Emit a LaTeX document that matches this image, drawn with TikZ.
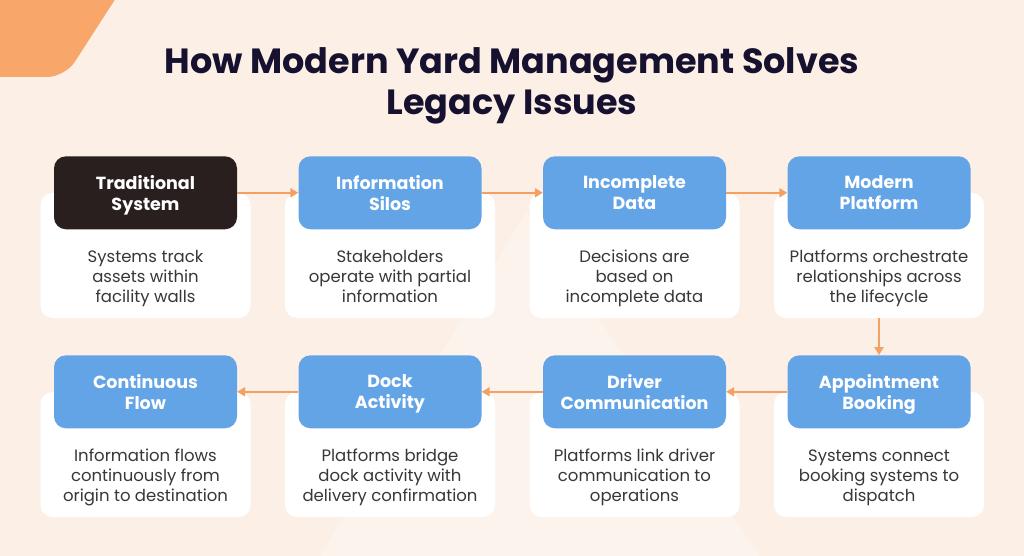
\documentclass[tikz,border=0pt]{standalone}
\usepackage{fontspec}
\setmainfont{Poppins}
\usetikzlibrary{positioning,arrows.meta}
\definecolor{bgpeach}{HTML}{FCEFE6}
\definecolor{cornerorange}{HTML}{F9A66B}
\definecolor{arroworange}{HTML}{F4A062}
\definecolor{hdrblue}{HTML}{63A4E7}
\definecolor{darkhdr}{HTML}{2A1F1F}
\definecolor{titleink}{HTML}{15112E}
\definecolor{bodygray}{HTML}{3A3636}

\begin{document}
\begin{tikzpicture}[x=1pt,y=-1pt,
  hdr/.style={rectangle, rounded corners=12pt, fill=hdrblue, minimum width=183pt, minimum height=73pt, inner sep=0pt},
  hdrtext/.style={inner sep=0pt, text=white, align=center, font=\bfseries\fontsize{17.5}{21}\selectfont, execute at begin node=\strut, execute at end node=\strut},
  card/.style={rectangle, rounded corners=12pt, fill=white, minimum width=210pt, minimum height=125pt, inner sep=0pt},
  desc/.style={inner sep=0pt, text=bodygray, align=center, font=\fontsize{16.5}{20}\selectfont, execute at begin node=\strut, execute at end node=\strut},
  flow/.style={draw=arroworange, line width=2pt, -{Triangle[length=8pt,width=9pt]}}]
\useasboundingbox (0,0) rectangle (1024,556);
\fill[bgpeach] (0,0) rectangle (1024,556);
\fill[white, opacity=0.3] (320,556) -- (526,212) -- (760,556) -- cycle;
\fill[cornerorange, rounded corners=18pt] (-30,-30) -- (134,-30) -- (65,77) -- (-30,77) -- cycle;

\node at (512,86) [text=titleink, align=center, font=\bfseries\fontsize{35}{41}\selectfont] (title) {How Modern Yard Management Solves\\Legacy Issues};

% white cards, top row left to right, bottom row right to left
\node at (145.5,255.5) [card] (tradc) {};
\node [card, node distance=244.5pt, right of=tradc] (siloc) {};
\node [card, node distance=244.5pt, right of=siloc] (incc) {};
\node [card, node distance=244.5pt, right of=incc] (modc) {};
\node [card, node distance=199pt, below of=modc] (bookc) {};
\node [card, node distance=244.5pt, left of=bookc] (drvc) {};
\node [card, node distance=244.5pt, left of=drvc] (dockc) {};
\node [card, node distance=244.5pt, left of=dockc] (flowc) {};

% headers sit on the top edge of each card
\node at (tradc.north) [hdr, fill=darkhdr] (trad) {};
\node at (siloc.north) [hdr] (silo) {};
\node at (incc.north) [hdr] (inc) {};
\node at (modc.north) [hdr] (mod) {};
\node at (bookc.north) [hdr] (book) {};
\node at (drvc.north) [hdr] (drv) {};
\node at (dockc.north) [hdr] (dock) {};
\node at (flowc.north) [hdr] (cflow) {};

\node at (trad) [hdrtext, yshift=-3pt] (tradh) {Traditional\\System};
\node at (silo) [hdrtext, yshift=-3pt] (siloh) {Information\\Silos};
\node at (inc) [hdrtext, yshift=-3pt] (inch) {Incomplete\\Data};
\node at (mod) [hdrtext, yshift=-3pt] (modh) {Modern\\Platform};
\node at (book) [hdrtext, yshift=-3pt] (bookh) {Appointment\\Booking};
\node at (drv) [hdrtext, yshift=-3pt] (drvh) {Driver\\Communication};
\node at (dock) [hdrtext, yshift=-3pt] (dockh) {Dock\\Activity};
\node at (cflow) [hdrtext, yshift=-3pt] (cflowh) {Continuous\\Flow};

\node at (tradc) [desc, yshift=-24pt] (tradt) {Systems track\\assets within\\facility walls};
\node at (siloc) [desc, yshift=-24pt] (silot) {Stakeholders\\operate with partial\\information};
\node at (incc) [desc, yshift=-24pt] (inct) {Decisions are\\based on\\incomplete data};
\node at (modc) [desc, yshift=-24pt] (modt) {Platforms orchestrate\\relationships across\\the lifecycle};
\node at (bookc) [desc, yshift=-24pt] (bookt) {Systems connect\\booking systems to\\dispatch};
\node at (drvc) [desc, yshift=-24pt] (drvt) {Platforms link driver\\communication to\\operations};
\node at (dockc) [desc, yshift=-24pt] (dockt) {Platforms bridge\\dock activity with\\delivery confirmation};
\node at (flowc) [desc, yshift=-24pt] (cflowt) {Information flows\\continuously from\\origin to destination};

\draw[flow] (trad) -- (silo);
\draw[flow] (silo) -- (inc);
\draw[flow] (inc) -- (mod);
\draw[flow] (modc) -- (book);
\draw[flow] (book) -- (drv);
\draw[flow] (drv) -- (dock);
\draw[flow] (dock) -- (cflow);

\end{tikzpicture}
\end{document}
